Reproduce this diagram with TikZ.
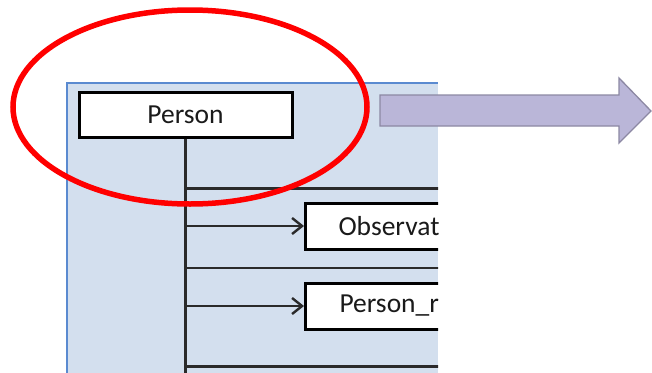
\documentclass[tikz,border=0pt]{standalone}
\usepackage{fontspec}
\setmainfont{Carlito}
\usetikzlibrary{arrows.meta}
\definecolor{panelfill}{HTML}{D3DFEE}
\definecolor{panelborder}{HTML}{5A8AD0}
\definecolor{linegray}{HTML}{2A2A2A}
\definecolor{textgray}{HTML}{1A1A1A}
\definecolor{arrowfill}{HTML}{BAB6D8}
\definecolor{arrowdraw}{HTML}{8C88A3}
\definecolor{ringred}{HTML}{FF0000}
\tikzset{
  classbox/.style={draw=black, fill=white, line width=3pt, font=\fontsize{27.5}{31}\selectfont, text=textgray, inner sep=0pt},
  link/.style={draw=linegray, line width=2.4pt},
  linkarrow/.style={link, -{Straight Barb[length=10pt,width=16pt,line width=2.4pt]}},
}
\begin{document}
\begin{tikzpicture}[x=1pt,y=-1pt]
\useasboundingbox (0,0) rectangle (652,372);
% panel
\fill[panelfill] (67,83) rectangle (438,380);
\draw[panelborder, line width=2.6pt] (67,380) -- (67,83) -- (438,83);
\begin{scope}
\clip (60,70) rectangle (438,372);
\node[classbox, minimum width=213pt, minimum height=45pt] (person) at (185.5,114.5) {Person};
\node[classbox, anchor=west, minimum height=46pt, text width=200pt, inner xsep=33pt, align=left] (obs) at (304,226) {Observat};
\node[classbox, anchor=west, minimum height=46pt, text width=200pt, inner xsep=34pt, align=left] (pr) at (304,306) {Person\_r};
\coordinate (trunkend) at (person.south |- 0,380);
\coordinate (h1) at (person.south |- 0,188.5);
\coordinate (h2) at (person.south |- 0,268);
\coordinate (h3) at (person.south |- 0,366.5);
\coordinate (e1) at (445,188.5);
\coordinate (e2) at (445,268);
\coordinate (e3) at (445,366.5);
\draw[link] (person.south) -- (trunkend);
\draw[link] (h1) -- (e1);
\draw[link] (h2) -- (e2);
\draw[link] (h3) -- (e3);
\draw[linkarrow] (person.south |- obs.west) -- (obs.west);
\draw[linkarrow] (person.south |- pr.west) -- (pr.west);
\end{scope}
% big arrow
\draw[draw=arrowdraw, fill=arrowfill, line width=1.3pt, line join=miter]
  (380,95) -- (619,95) -- (619,78) -- (651,111) -- (619,143) -- (619,126) -- (380,126) -- cycle;
% red ring
\draw[ringred, line width=5.5pt] (190,107) ellipse [x radius=177, y radius=97];
\end{tikzpicture}
\end{document}
